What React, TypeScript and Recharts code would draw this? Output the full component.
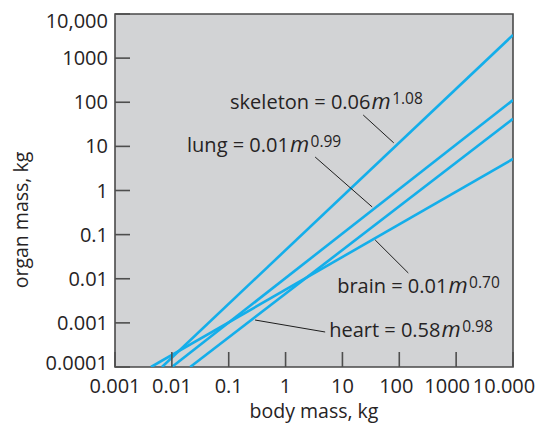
import React from 'react';
import {
  LineChart,
  Line,
  XAxis,
  YAxis,
  CartesianGrid,
  ReferenceArea,
  ReferenceLine,
  ReferenceDot,
  Label,
} from 'recharts';

// ---- data ----
const xTicks = [0.001, 0.01, 0.1, 1, 10, 100, 1000, 10000];
const xTickLabels = ['0.001', '0.01', '0.1', '1', '10', '100', '1000', '10.000'];
const yTicks = [0.0001, 0.001, 0.01, 0.1, 1, 10, 100, 1000, 10000];
const yTickLabels = ['0.0001', '0.001', '0.01', '0.1', '1', '10', '100', '1000', '10,000'];

const skeleton = [
  { x: 0.0067, y: 0.0001 },
  { x: 10000, y: 3340 },
];
const lung = [
  { x: 0.01, y: 0.0001 },
  { x: 10000, y: 112 },
];
const heart = [
  { x: 0.021, y: 0.0001 },
  { x: 10000, y: 42 },
];
const brain = [
  { x: 0.0043, y: 0.0001 },
  { x: 10000, y: 5.2 },
];

// annotation text: name, coefficient, exponent, anchor (data coords)
const labelNames = ['skeleton', 'lung', 'brain', 'heart'];
const labelCoefs = ['0.06', '0.01', '0.01', '0.58'];
const labelExps = ['1.08', '0.99', '0.70', '0.98'];
const labelX = [0.1057, 0.0185, 8.09, 5.85];
const labelY = [70.3, 7.45, 0.00475, 0.000479];

// leader lines (data coords)
const leaderFrom = [
  { x: 23.2, y: 51.4 },
  { x: 3.31, y: 5.74 },
  { x: 37.7, y: 0.0755 },
  { x: 0.291, y: 0.00116 },
];
const leaderTo = [
  { x: 80, y: 12.0 },
  { x: 33.4, y: 0.423 },
  { x: 144, y: 0.0135 },
  { x: 4.97, y: 0.000621 },
];

const FONT = '"Open Sans", "Noto Sans", sans-serif';
const TEXT = '#262324';
const TICK = '#4e4e4e';
const BLUE = '#14aeea';
const BG = '#d2d3d5';

const XTick = (props: any) => {
  const { x, y, payload } = props;
  const i = xTicks.indexOf(payload.value);
  const axisY = y - 26;
  let dx = 0;
  if (i === xTicks.length - 1) dx = -9;
  if (i === xTicks.length - 2) dx = -9;
  if (i === xTicks.length - 3) dx = -3;
  return (
    <g>
      <line x1={x} y1={axisY} x2={x} y2={axisY - 15} stroke={TICK} strokeWidth={1.6} />
      <text x={x + dx} y={y} textAnchor="middle" fontFamily={FONT} fontSize={20} fill={TEXT}>
        {xTickLabels[i]}
      </text>
    </g>
  );
};

const YTick = (props: any) => {
  const { x, y, payload } = props;
  const i = yTicks.indexOf(payload.value);
  const axisX = x + 7;
  let dy = 7;
  if (i === yTicks.length - 1) dy = 14;
  if (i === 0) dy = 3;
  return (
    <g>
      <line x1={axisX} y1={y} x2={axisX + 15} y2={y} stroke={TICK} strokeWidth={1.6} />
      <text x={x} y={y + dy} textAnchor="end" fontFamily={FONT} fontSize={20} fill={TEXT}>
        {yTickLabels[i]}
      </text>
    </g>
  );
};

const XTitle = (props: any) => {
  const vb = props.viewBox || {};
  return (
    <text
      x={vb.x + vb.width / 2}
      y={vb.y + 51}
      textAnchor="middle"
      fontFamily={FONT}
      fontSize={19.5}
      fill={TEXT}
    >
      body mass, kg
    </text>
  );
};

const YTitle = (props: any) => {
  const vb = props.viewBox || {};
  const cx = vb.x + 28;
  const cy = vb.y + vb.height / 2 + 29.5;
  return (
    <text
      x={cx}
      y={cy}
      transform={`rotate(-90 ${cx} ${cy})`}
      textAnchor="middle"
      fontFamily={FONT}
      fontSize={19.5}
      fill={TEXT}
    >
      organ mass, kg
    </text>
  );
};

const makeEq = (i: number) => (p: any) => (
  <text x={p.cx} y={p.cy} fontFamily={FONT} fontSize={20} fill={TEXT}>
    <tspan>{`${labelNames[i]} = ${labelCoefs[i]}`}</tspan>
    <tspan fontStyle="italic" fontSize={22} dx={1}>
      m
    </tspan>
    <tspan fontSize={15.5} dx={1.5} dy={-5}>
      {labelExps[i]}
    </tspan>
  </text>
);

export default function App() {
  const series = [skeleton, lung, heart, brain];
  return (
    <div style={{ position: 'absolute', left: 0, top: 0 }}>
      <LineChart
        width={541}
        height={427}
        margin={{ top: 14, right: 28, bottom: 0, left: 0 }}
      >
        <CartesianGrid fill={BG} fillOpacity={1} horizontal={false} vertical={false} />
        <XAxis
          dataKey="x"
          type="number"
          scale="log"
          domain={[0.001, 10000]}
          allowDataOverflow
          ticks={xTicks}
          interval={0}
          height={60}
          tickSize={0}
          tickMargin={26}
          tickLine={false}
          axisLine={false}
          tick={<XTick />}
        >
          <Label content={<XTitle />} />
        </XAxis>
        <YAxis
          type="number"
          scale="log"
          domain={[0.0001, 10000]}
          allowDataOverflow
          ticks={yTicks}
          interval={0}
          width={115}
          tickSize={0}
          tickMargin={7}
          tickLine={false}
          axisLine={false}
          tick={<YTick />}
        >
          <Label content={<YTitle />} />
        </YAxis>
        {series.map((d, k) => (
          <Line
            key={k}
            data={d}
            dataKey="y"
            type="linear"
            dot={false}
            activeDot={false}
            stroke={BLUE}
            strokeWidth={2.6}
            isAnimationActive={false}
          />
        ))}
        {leaderFrom.map((f, k) => (
          <ReferenceLine
            key={`l${k}`}
            segment={[f, leaderTo[k]]}
            stroke="#1e1e1e"
            strokeWidth={1}
          />
        ))}
        {labelNames.map((n, k) => (
          <ReferenceDot
            key={`d${k}`}
            x={labelX[k]}
            y={labelY[k]}
            r={0}
            shape={makeEq(k)}
          />
        ))}
        <ReferenceArea
          x1={0.001}
          x2={10000}
          y1={0.0001}
          y2={10000}
          fill="none"
          stroke="#4a4a4a"
          strokeWidth={1.6}
        />
      </LineChart>
    </div>
  );
}
